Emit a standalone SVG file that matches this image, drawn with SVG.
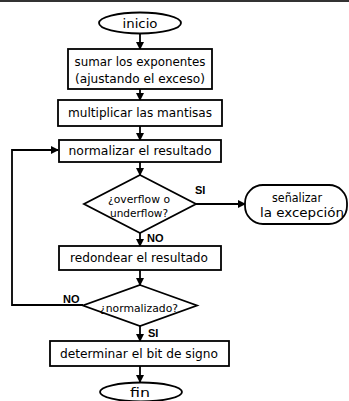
<svg xmlns="http://www.w3.org/2000/svg" width="349" height="401" viewBox="0 0 349 401">
<style>
.s{fill:#fff;stroke:#000;stroke-width:1.8}
.t{font-family:"DejaVu Sans","Liberation Sans",sans-serif;font-size:12.5px;fill:#000;text-anchor:middle}
.sm{font-size:10.5px}
.b{font-family:"Liberation Sans",sans-serif;font-weight:bold;font-size:11px;fill:#000}
.c{fill:none;stroke:#000;stroke-width:1.8}
</style>
<defs>
<marker id="ah" markerWidth="8" markerHeight="8" refX="7" refY="4" orient="auto" markerUnits="userSpaceOnUse">
<path d="M0,0 L8,4 L0,8 Z" fill="#000"/>
</marker>
</defs>
<rect width="349" height="401" fill="#fff"/>
<line x1="0" y1="1" x2="349" y2="1" stroke="#333" stroke-width="2"/>
<g id="connectors">
<line class="c" x1="140" y1="33" x2="140" y2="49" marker-end="url(#ah)"/>
<line class="c" x1="140" y1="89" x2="140" y2="100" marker-end="url(#ah)"/>
<line class="c" x1="140" y1="126" x2="140" y2="140" marker-end="url(#ah)"/>
<line class="c" x1="140" y1="162" x2="140" y2="175" marker-end="url(#ah)"/>
<line class="c" x1="196" y1="204" x2="245" y2="204" marker-end="url(#ah)"/>
<line class="c" x1="140" y1="233" x2="140" y2="246" marker-end="url(#ah)"/>
<line class="c" x1="140" y1="270" x2="140" y2="285" marker-end="url(#ah)"/>
<line class="c" x1="140" y1="326" x2="140" y2="341" marker-end="url(#ah)"/>
<line class="c" x1="140" y1="366" x2="140" y2="382" marker-end="url(#ah)"/>
<polyline class="c" points="83,305 12,305 12,150 58,150" marker-end="url(#ah)"/>
<text class="b" x="195" y="194">SI</text>
<text class="b" x="147" y="242">NO</text>
<text class="b" x="63" y="303">NO</text>
<text class="b" x="148" y="337">SI</text>
</g>
<g id="inicio">
<ellipse class="s" cx="140" cy="23" rx="41" ry="10.5"/>
<text class="t" x="140" y="27.5" textLength="35" lengthAdjust="spacingAndGlyphs">inicio</text>
</g>
<g id="sumar">
<rect class="s" x="68" y="49" width="144" height="40"/>
<text class="t" x="140" y="66" textLength="131" lengthAdjust="spacingAndGlyphs">sumar los exponentes</text>
<text class="t" x="140" y="83" textLength="130" lengthAdjust="spacingAndGlyphs">(ajustando el exceso)</text>
</g>
<g id="multiplicar">
<rect class="s" x="58" y="100" width="164" height="26"/>
<text class="t" x="140" y="117" textLength="144" lengthAdjust="spacingAndGlyphs">multiplicar las mantisas</text>
</g>
<g id="normalizar">
<rect class="s" x="59" y="140" width="162" height="22"/>
<text class="t" x="140" y="155" textLength="143" lengthAdjust="spacingAndGlyphs">normalizar el resultado</text>
</g>
<g id="overflow">
<polygon class="s" points="140,175 196,204 140,233 84,204"/>
<text class="t sm" x="139" y="203" textLength="62" lengthAdjust="spacingAndGlyphs">¿overflow o</text>
<text class="t sm" x="139" y="217" textLength="58" lengthAdjust="spacingAndGlyphs">underflow?</text>
</g>
<g id="excepcion">
<rect class="s" x="245" y="185" width="102" height="39" rx="18" ry="18"/>
<text class="t" x="297" y="202" textLength="50" lengthAdjust="spacingAndGlyphs">señalizar</text>
<text class="t" x="302" y="217" textLength="84" lengthAdjust="spacingAndGlyphs">la excepción</text>
</g>
<g id="redondear">
<rect class="s" x="59" y="246" width="162" height="24"/>
<text class="t" x="139" y="262" textLength="138" lengthAdjust="spacingAndGlyphs">redondear el resultado</text>
</g>
<g id="normalizado">
<polygon class="s" points="140,285 197,305.5 140,326 83,305.5"/>
<text class="t sm" x="139" y="312" textLength="78" lengthAdjust="spacingAndGlyphs">¿normalizado?</text>
</g>
<g id="determinar">
<rect class="s" x="50" y="341" width="179" height="25"/>
<text class="t" x="139" y="358" textLength="158" lengthAdjust="spacingAndGlyphs">determinar el bit de signo</text>
</g>
<g id="fin">
<ellipse class="s" cx="141" cy="392" rx="41" ry="9.5"/>
<text class="t" x="140" y="396.5" textLength="20" lengthAdjust="spacingAndGlyphs">fin</text>
</g>
</svg>
